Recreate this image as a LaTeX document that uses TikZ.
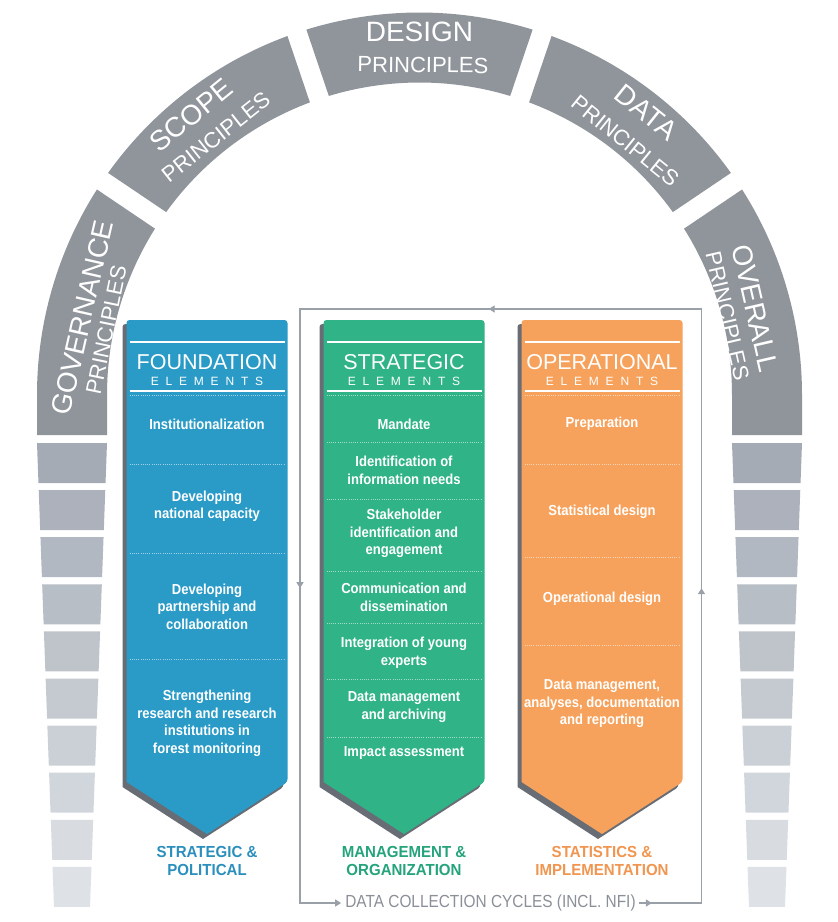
\documentclass[tikz,border=0pt]{standalone}
\usepackage{fontspec}
\setmainfont{Liberation Sans}
\newfontfamily\itemfont[FakeStretch=0.9]{Liberation Sans}
\newfontfamily\labfont[FakeStretch=0.94]{Liberation Sans}
\newfontfamily\dccfont[FakeStretch=0.88]{Liberation Sans}
\usetikzlibrary{arrows.meta,decorations.markings}

\definecolor{archgray}{HTML}{90949B}
\definecolor{blkTop}{HTML}{A5ABB5}
\definecolor{blkBot}{HTML}{DEE2E7}
\definecolor{fblue}{HTML}{2A9BC7}
\definecolor{sgreen}{HTML}{2FB387}
\definecolor{oorange}{HTML}{F6A25C}
\definecolor{lblue}{HTML}{2B8FBD}
\definecolor{lgreen}{HTML}{25A47B}
\definecolor{lorange}{HTML}{F19650}
\definecolor{colshadow}{HTML}{686D75}
\definecolor{loopgray}{HTML}{9AA0A8}
\definecolor{dcctext}{HTML}{8B9098}

\newcommand\spacedelements{E\kern6.8pt L\kern6.8pt E\kern6.8pt M\kern6.8pt E\kern6.8pt N\kern6.8pt T\kern6.8pt S}

\begin{document}
\begin{tikzpicture}[x=1pt,y=-1pt,
  archmain/.style={text=white, inner sep=0pt, font=\fontsize{28}{28}\selectfont},
  archsub/.style={text=white, inner sep=0pt, font=\fontsize{22}{22}\selectfont},
  colhead/.style={text=white, inner sep=0pt, font=\fontsize{21.5}{22}\selectfont},
  colsub/.style={text=white, inner sep=0pt, font=\fontsize{12}{12}\selectfont},
  item/.style={text=white, inner sep=0pt, align=center, font=\itemfont\bfseries\fontsize{14.5}{17.5}\selectfont},
  collabel/.style={inner sep=0pt, align=center, font=\labfont\bfseries\fontsize{16}{18}\selectfont},
  dcc/.style={text=dcctext, inner xsep=4pt, inner ysep=0pt, font=\dccfont\fontsize{17.5}{18}\selectfont},
  sepline/.style={draw=white, draw opacity=0.55, line width=0.9, dash pattern=on 0.9pt off 1.3pt},
  loopline/.style={color=loopgray, line width=1.3, line cap=rect},
  midtip/.style={postaction={decorate}, decoration={markings,
      mark=at position #1 with {\arrow{Triangle[width=7pt,length=6pt]}}}}
]
\useasboundingbox (0,0) rectangle (838,922);
\fill[white] (0,0) rectangle (838,922);

% ---------- principle arch ----------
\begin{scope}[shift={(419.5,395)}, y=1pt]
  \def\ro{382.5}\def\ri{312.5}
  \def\dgo{1.498}\def\dgi{1.834}
  % governance (left end, with straight foot)
  \fill[archgray] (180:\ro pt) arc[start angle=180, end angle=146+\dgo, radius=\ro pt]
     -- (146+\dgi:\ri pt) arc[start angle=146+\dgi, end angle=180, radius=\ri pt]
     -- (-\ri,-40) -- (-\ro,-40) -- cycle;
  % middle segments
  \foreach \a/\b in {146/108.7, 108.7/71.3, 71.3/34}{
    \fill[archgray] (\a-\dgo:\ro pt) arc[start angle=\a-\dgo, end angle=\b+\dgo, radius=\ro pt]
       -- (\b+\dgi:\ri pt) arc[start angle=\b+\dgi, end angle=\a-\dgi, radius=\ri pt] -- cycle;
  }
  % overall (right end, with straight foot)
  \fill[archgray] (34-\dgo:\ro pt) arc[start angle=34-\dgo, end angle=0, radius=\ro pt]
     -- (\ro,-40) -- (\ri,-40) -- (0:\ri pt)
     arc[start angle=0, end angle=34-\dgi, radius=\ri pt] -- cycle;

  \node[archmain, rotate=77.1] (govMain) at (167.1:346pt) {GOVERNANCE};
  \node[archsub,  rotate=78.3] (govSub)  at (168.3:320pt) {PRINCIPLES};
  \node[archmain, rotate=39.2] (scpMain) at (129.2:361pt) {SCOPE};
  \node[archsub,  rotate=38.3] (scpSub)  at (128.3:328.6pt) {PRINCIPLES};
  \node[archmain]              (dsnMain) at (90:363pt) {DESIGN};
  \node[archsub,  rotate=-0.6] (dsnSub)  at (89.4:330pt) {PRINCIPLES};
  \node[archmain, rotate=-38.7] (datMain) at (51.3:362.5pt) {DATA};
  \node[archsub,  rotate=-39]   (datSub)  at (51:326.7pt) {PRINCIPLES};
  \node[archmain, rotate=-77]   (ovrMain) at (14.5:346.6pt) {OVERALL};
  \node[archsub,  rotate=-77]   (ovrSub)  at (14.4:318pt) {PRINCIPLES};
\end{scope}

% ---------- tapering pillar blocks ----------
\foreach \i in {0,...,9}{
  \pgfmathsetmacro\yt{443+47.1*\i}
  \pgfmathsetmacro\yb{\yt+40}
  \pgfmathsetmacro\wt{35-(\yt-443)*17/464}
  \pgfmathsetmacro\wb{35-(\yb-443)*17/464}
  \pgfmathtruncatemacro\pct{100-\i*100/9}
  \fill[blkTop!\pct!blkBot] (72-\wt,\yt) -- (72+\wt,\yt) -- (72+\wb,\yb) -- (72-\wb,\yb) -- cycle;
  \fill[blkTop!\pct!blkBot] (767-\wt,\yt) -- (767+\wt,\yt) -- (767+\wb,\yb) -- (767-\wb,\yb) -- cycle;
}

% ---------- element columns ----------
\foreach \L/\R/\C in {126.5/287.5/fblue, 323.5/484.5/sgreen, 521.5/682.5/oorange}{
  \pgfmathsetmacro\M{(\L+\R)/2}
  \fill[colshadow] (\L-4,787) [rounded corners=3pt] -- (\L-4,324) -- (\R-4,324) -- (\R-4,787)
      [sharp corners] -- (\M-4,839) -- cycle;
  \fill[\C] (\L,782) [rounded corners=3pt] -- (\L,320) -- (\R,320) -- (\R,782)
      [sharp corners] -- (\M,834) -- cycle;
  \draw[white, line width=2] (\L+3,342) -- (\R-3,342);
  \draw[white, line width=1.5] (\L+3,391) -- (\R-3,391);
  \draw[sepline] (\L+3,395) -- (\R-3,395);
}
\foreach \y in {464,553,659} \draw[sepline] (129.5,\y) -- (284.5,\y);
\foreach \y in {442,499,571,623,679,737} \draw[sepline] (326.5,\y) -- (481.5,\y);
\foreach \y in {464,557,645} \draw[sepline] (524.5,\y) -- (679.5,\y);

% headers
\node[colhead] (fndHead) at (207,362) {FOUNDATION};
\node[colsub]  (fndSub)  at (207,381) {\spacedelements};
\node[colhead] (strHead) at (404,362) {STRATEGIC};
\node[colsub]  (strSub)  at (404,381) {\spacedelements};
\node[colhead] (opHead)  at (602,362) {OPERATIONAL};
\node[colsub]  (opSub)   at (602,381) {\spacedelements};

% foundation elements
\node[item] (fnd1) at (207,424)   {Institutionalization};
\node[item] (fnd2) at (207,506)   {Developing\\national capacity};
\node[item] (fnd3) at (207,606.5) {Developing\\partnership and\\collaboration};
\node[item] (fnd4) at (207,723.5) {Strengthening\\research and research\\institutions in\\forest monitoring};

% strategic elements
\node[item] (str1) at (404,424)   {Mandate};
\node[item] (str2) at (404,470.5) {Identification of\\information needs};
\node[item] (str3) at (404,533.5) {Stakeholder\\identification and\\engagement};
\node[item] (str4) at (404,597.5) {Communication and\\dissemination};
\node[item] (str5) at (404,652.5) {Integration of young\\experts};
\node[item] (str6) at (404,707)   {Data management\\and archiving};
\node[item] (str7) at (404,753)   {Impact assessment};

% operational elements
\node[item] (op1) at (602,424) {Preparation};
\node[item] (op2) at (602,512) {Statistical design};
\node[item] (op3) at (602,599) {Operational design};
\node[item] (op4) at (602,704) {Data management,\\analyses, documentation\\and reporting};

% column captions
\node[collabel, text=lblue]   (fndLab) at (207,861) {STRATEGIC \&\\POLITICAL};
\node[collabel, text=lgreen]  (strLab) at (404,861) {MANAGEMENT \&\\ORGANIZATION};
\node[collabel, text=lorange] (opLab)  at (602,861) {STATISTICS \&\\IMPLEMENTATION};

% ---------- data collection cycle ----------
\node[dcc] (dcc) at (490.5,903) {DATA COLLECTION CYCLES (INCL. NFI)};
\coordinate (loopBR) at (701.5,903);
\coordinate (loopTR) at (701.5,309);
\coordinate (loopTL) at (300,309);
\coordinate (loopBL) at (300,903);

\draw[loopline, midtip=12pt] (dcc.east) -- (loopBR);
\draw[loopline, midtip=0.53] (loopBR) -- (loopTR);
\draw[loopline, midtip=0.53] (loopTR) -- (loopTL);
\draw[loopline, midtip=0.47] (loopTL) -- (loopBL);
\draw[loopline, -{Triangle[width=7pt,length=6pt]}] (loopBL) -- (dcc.west);
\end{tikzpicture}
\end{document}
